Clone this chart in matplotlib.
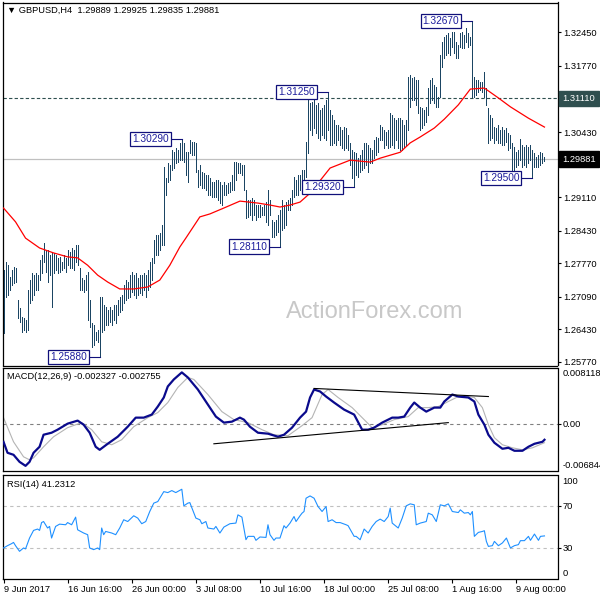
import matplotlib
matplotlib.use('Agg')
import matplotlib.pyplot as plt

plt.rcParams['font.family'] = ['Liberation Sans', 'DejaVu Sans']

# ---------------- data (H4 bars, index 0 = 9 Jun 2017 08:00) ----------------
high = [1.2763, 1.2780, 1.2774, 1.2749, 1.2763, 1.2770, 1.2768, 1.2703, 1.2687, 1.2668,
        1.2666, 1.2662, 1.2723, 1.2743, 1.2757, 1.2753, 1.2757, 1.2753, 1.2784, 1.2794,
        1.2818, 1.2804, 1.2804, 1.2794, 1.2798, 1.2798, 1.2794, 1.2788, 1.2790, 1.2780,
        1.2794, 1.2788, 1.2804, 1.2800, 1.2808, 1.2804, 1.2814, 1.2814, 1.2768, 1.2747,
        1.2743, 1.2753, 1.2759, 1.2703, 1.2656, 1.2652, 1.2638, 1.2642, 1.2709, 1.2709,
        1.2693, 1.2689, 1.2682, 1.2689, 1.2682, 1.2693, 1.2693, 1.2703, 1.2709, 1.2713,
        1.2733, 1.2743, 1.2739, 1.2753, 1.2759, 1.2753, 1.2757, 1.2747, 1.2753, 1.2753,
        1.2757, 1.2753, 1.2763, 1.2780, 1.2788, 1.2824, 1.2834, 1.2834, 1.2838, 1.2855,
        1.2972, 1.2950, 1.2980, 1.2976, 1.3007, 1.3003, 1.3011, 1.3007, 1.3021, 1.3029,
        1.3021, 1.3003, 1.3003, 1.3027, 1.3023, 1.3023, 1.3021, 1.2966, 1.2976, 1.2962,
        1.2960, 1.2956, 1.2956, 1.2950, 1.2942, 1.2942, 1.2946, 1.2946, 1.2942, 1.2936,
        1.2942, 1.2936, 1.2940, 1.2942, 1.2956, 1.2982, 1.2982, 1.2980, 1.2980, 1.2976,
        1.2976, 1.2926, 1.2905, 1.2905, 1.2909, 1.2905, 1.2895, 1.2895, 1.2895, 1.2891,
        1.2895, 1.2901, 1.2926, 1.2905, 1.2865, 1.2861, 1.2865, 1.2875, 1.2885, 1.2905,
        1.2895, 1.2901, 1.2905, 1.2909, 1.2926, 1.2952, 1.2946, 1.2956, 1.2956, 1.2966,
        1.2966, 1.3023, 1.3108, 1.3102, 1.3104, 1.3108, 1.3098, 1.3102, 1.3088, 1.3092,
        1.3098, 1.3108, 1.3125, 1.3088, 1.3078, 1.3067, 1.3057, 1.3057, 1.3053, 1.3047,
        1.3053, 1.3051, 1.3037, 1.3021, 1.3007, 1.3003, 1.3001, 1.2990, 1.2997, 1.3007,
        1.3021, 1.3021, 1.3017, 1.3011, 1.3007, 1.3027, 1.3033, 1.3031, 1.3057, 1.3053,
        1.3047, 1.3043, 1.3047, 1.3082, 1.3078, 1.3071, 1.3067, 1.3071, 1.3071, 1.3067,
        1.3057, 1.3067, 1.3154, 1.3158, 1.3152, 1.3154, 1.3148, 1.3148, 1.3094, 1.3092,
        1.3088, 1.3094, 1.3132, 1.3148, 1.3152, 1.3138, 1.3134, 1.3114, 1.3199, 1.3225,
        1.3235, 1.3240, 1.3244, 1.3233, 1.3246, 1.3246, 1.3225, 1.3219, 1.3244, 1.3246,
        1.3240, 1.3254, 1.3244, 1.3235, 1.3267, 1.3154, 1.3148, 1.3148, 1.3144, 1.3144,
        1.3165, 1.3132, 1.3092, 1.3078, 1.3071, 1.3053, 1.3051, 1.3057, 1.3047, 1.3053,
        1.3047, 1.3051, 1.3041, 1.3037, 1.3021, 1.3013, 1.3003, 1.3007, 1.3029, 1.3017,
        1.3013, 1.3017, 1.3013, 1.3017, 1.3007, 1.3001, 1.2993, 1.2997, 1.3003, 1.3001,
        1.29925]

low = [1.2636, 1.2709, 1.2713, 1.2723, 1.2733, 1.2737, 1.2739, 1.2666, 1.2658, 1.2638,
       1.2642, 1.2638, 1.2642, 1.2697, 1.2703, 1.2713, 1.2723, 1.2723, 1.2743, 1.2757,
       1.2780, 1.2759, 1.2739, 1.2753, 1.2689, 1.2757, 1.2763, 1.2757, 1.2759, 1.2763,
       1.2768, 1.2759, 1.2774, 1.2768, 1.2768, 1.2763, 1.2780, 1.2774, 1.2723, 1.2723,
       1.2719, 1.2723, 1.2662, 1.2648, 1.2607, 1.2611, 1.2622, 1.2618, 1.2588, 1.2638,
       1.2642, 1.2652, 1.2652, 1.2658, 1.2652, 1.2662, 1.2656, 1.2672, 1.2678, 1.2682,
       1.2697, 1.2703, 1.2707, 1.2709, 1.2719, 1.2713, 1.2707, 1.2713, 1.2717, 1.2713,
       1.2723, 1.2709, 1.2723, 1.2729, 1.2743, 1.2778, 1.2794, 1.2794, 1.2804, 1.2814,
       1.2814, 1.2916, 1.2942, 1.2946, 1.2966, 1.2970, 1.2980, 1.2982, 1.2986, 1.2986,
       1.2982, 1.2956, 1.2942, 1.3001, 1.2997, 1.2997, 1.2962, 1.2932, 1.2936, 1.2930,
       1.2930, 1.2926, 1.2916, 1.2916, 1.2912, 1.2912, 1.2912, 1.2905, 1.2899, 1.2895,
       1.2916, 1.2916, 1.2920, 1.2922, 1.2926, 1.2926, 1.2946, 1.2960, 1.2960, 1.2956,
       1.2926, 1.2869, 1.2871, 1.2875, 1.2865, 1.2875, 1.2865, 1.2871, 1.2871, 1.2875,
       1.2875, 1.2861, 1.2855, 1.2875, 1.2830, 1.2830, 1.2834, 1.2840, 1.2811, 1.2844,
       1.2848, 1.2855, 1.2885, 1.2885, 1.2895, 1.2911, 1.2916, 1.2916, 1.2926, 1.2942,
       1.2942, 1.2952, 1.3001, 1.3047, 1.3037, 1.3051, 1.3041, 1.3031, 1.3027, 1.3037,
       1.3031, 1.3027, 1.3047, 1.3017, 1.3017, 1.3021, 1.3017, 1.3027, 1.3017, 1.3011,
       1.3007, 1.3011, 1.3007, 1.2976, 1.2950, 1.2932, 1.2956, 1.2952, 1.2962, 1.2966,
       1.2970, 1.2976, 1.2962, 1.2980, 1.2980, 1.2990, 1.2997, 1.3003, 1.3027, 1.3027,
       1.3011, 1.3017, 1.3011, 1.3013, 1.3017, 1.3011, 1.3027, 1.3011, 1.3007, 1.3007,
       1.3013, 1.3017, 1.3047, 1.3094, 1.3108, 1.3108, 1.3098, 1.3082, 1.3047, 1.3051,
       1.3057, 1.3063, 1.3078, 1.3102, 1.3108, 1.3102, 1.3094, 1.3094, 1.3114, 1.3175,
       1.3193, 1.3199, 1.3203, 1.3199, 1.3215, 1.3203, 1.3193, 1.3193, 1.3215, 1.3213,
       1.3213, 1.3225, 1.3215, 1.3219, 1.3114, 1.3114, 1.3118, 1.3124, 1.3128, 1.3124,
       1.3114, 1.3098, 1.3021, 1.3027, 1.3031, 1.3021, 1.3027, 1.3021, 1.3021, 1.3017,
       1.3017, 1.3023, 1.3007, 1.3011, 1.2966, 1.2962, 1.2972, 1.2976, 1.2986, 1.2972,
       1.2976, 1.2972, 1.2980, 1.2986, 1.2950, 1.2972, 1.2972, 1.2972, 1.2976, 1.2980,
       1.29835]

ma_idx = [0, 6, 11, 18, 25, 32, 37, 42, 47, 52, 58, 65, 72, 78, 83, 88, 91, 98, 103, 110,
          118, 127, 133, 138, 143, 148, 153, 163, 173, 183, 188, 198, 203, 208, 215, 220,
          227, 233, 240, 247, 253, 262, 270]
ma_val = [1.2889, 1.2861, 1.2828, 1.2808, 1.2798, 1.2790, 1.2788, 1.2773, 1.2753, 1.2739,
          1.2725, 1.2725, 1.2729, 1.2743, 1.2773, 1.2810, 1.2828, 1.2871, 1.2877, 1.2889,
          1.2903, 1.2899, 1.2895, 1.2891, 1.2895, 1.2901, 1.2919, 1.2970, 1.2986, 1.2982,
          1.2990, 1.3002, 1.3021, 1.3033, 1.3051, 1.3069, 1.3098, 1.3130, 1.3132, 1.3112,
          1.3094, 1.3071, 1.3053]

macd_idx = [0, 2, 5, 8, 11, 13, 15, 18, 20, 24, 27, 32, 37, 40, 43, 46, 48, 52, 57, 62,
            66, 70, 74, 77, 80, 82, 85, 89, 92, 97, 102, 106, 110, 114, 118, 120, 123, 127,
            132, 137, 140, 144, 148, 151, 153, 155, 158, 161, 165, 170, 175, 179, 182, 185,
            189, 194, 197, 200, 203, 205, 208, 211, 215, 218, 220, 224, 227, 232, 235, 237,
            240, 242, 245, 249, 252, 255, 259, 262, 265, 269, 270]
macd_val = [-0.00262, -0.00421, -0.00450, -0.00552, -0.00610, -0.00552, -0.00421, -0.00334,
            -0.00160, -0.00131, -0.00087, 0.0, 0.00044, -0.00015, -0.00131, -0.00334,
            -0.00378, -0.00291, -0.00189, -0.00044, 0.00087, 0.00087, 0.00131, 0.00247,
            0.00378, 0.00538, 0.00639, 0.00741, 0.00668, 0.00494, 0.00276, 0.00102, 0.00015,
            0.00029, 0.00087, 0.00058, -0.00044, -0.00131, -0.00145, -0.00189, -0.00160,
            -0.00058, 0.00087, 0.00174, 0.00378, 0.00494, 0.00465, 0.00392, 0.00305, 0.00203,
            0.00131, -0.00087, -0.00087, -0.00058, 0.00015, 0.00087, 0.00087, 0.00102,
            0.00232, 0.00305, 0.00232, 0.00174, 0.00232, 0.00232, 0.00320, 0.00421, 0.00392,
            0.00378, 0.00320, 0.00131, -0.00015, -0.00160, -0.00276, -0.00363, -0.00349,
            -0.00392, -0.00392, -0.00334, -0.00291, -0.00262, -0.002327]

sig_idx = [0, 5, 10, 13, 15, 20, 25, 32, 39, 44, 49, 54, 59, 65, 72, 77, 82, 87, 92, 95,
           102, 109, 115, 122, 129, 135, 142, 149, 154, 159, 162, 167, 174, 180, 184, 189,
           195, 202, 207, 212, 217, 222, 227, 232, 235, 239, 242, 245, 249, 254, 259, 264, 270]
sig_val = [0.00087, -0.00262, -0.00479, -0.00523, -0.00494, -0.00334, -0.00189, -0.00058,
           0.00015, -0.00087, -0.00262, -0.00305, -0.00232, -0.00044, 0.00087, 0.00160,
           0.00305, 0.00523, 0.00668, 0.00639, 0.00421, 0.00174, 0.00058, 0.00015, -0.00087,
           -0.00160, -0.00174, -0.00029, 0.00087, 0.00421, 0.00494, 0.00378, 0.00232,
           0.00058, -0.00058, -0.00015, 0.00058, 0.00102, 0.00232, 0.00232, 0.00247, 0.00320,
           0.00392, 0.00392, 0.00378, 0.00232, -0.00015, -0.00203, -0.00305, -0.00349,
           -0.00378, -0.00349, -0.002755]

trend_upper_idx = [155, 242]
trend_upper_val = [0.00509, 0.00392]
trend_lower_idx = [105, 222]
trend_lower_val = [-0.00291, 0.00015]

rsi_idx = [0, 2, 4, 5, 6, 8, 10, 11, 13, 15, 17, 18, 19, 20, 22, 23, 24, 26, 28, 31,
           32, 34, 36, 37, 40, 42, 43, 45, 47, 48, 49, 50, 51, 54, 56, 58, 60, 62, 65, 67,
           69, 71, 73, 75, 77, 80, 82, 84, 86, 89, 90, 92, 93, 96, 98, 99, 101, 102, 105, 106,
           108, 110, 113, 116, 117, 119, 121, 122, 125, 126, 128, 131, 132, 133, 135, 136, 138,
           140, 141, 143, 145, 146, 148, 149, 150, 151, 153, 155, 157, 159, 161, 162, 164, 166,
           168, 171, 172, 175, 176, 178, 180, 182, 184, 186, 188, 190, 192, 193, 194, 196,
           197, 199, 201, 203, 205, 206, 208, 211, 212, 214, 216, 218, 220, 222, 224, 227,
           228, 230, 232, 233, 234, 235, 237, 239, 240, 241, 242, 244, 245, 247, 249, 251,
           253, 255, 257, 258, 260, 262, 263, 265, 267, 268, 270]
rsi_val = [29.7, 31.9, 33.8, 35.0, 31.9, 26.5, 29.7, 28.8, 39.2, 46.5,
           47.8, 46.5, 54.0, 55.0, 48.8, 50.3, 39.2, 50.3, 52.5, 51.9,
           54.0, 51.9, 59.2, 47.1, 44.0, 42.4, 29.7, 28.1, 29.7, 28.1,
           48.8, 42.4, 45.5, 44.0, 42.4, 48.8, 56.7, 55.0, 60.5, 58.3,
           52.9, 55.0, 64.6, 72.6, 74.1, 83.6, 82.7, 84.6, 82.7, 85.9,
           70.0, 72.6, 73.1, 58.3, 56.7, 52.9, 55.0, 48.8, 47.8, 50.3,
           44.0, 49.7, 52.9, 53.5, 61.4, 59.2, 37.6, 40.8, 40.8, 37.0,
           40.2, 39.8, 51.9, 42.4, 37.0, 39.2, 39.2, 51.0, 48.8, 53.5,
           59.8, 55.0, 60.5, 63.0, 64.6, 77.3, 79.5, 77.3, 69.3, 64.6,
           69.3, 55.0, 56.7, 54.0, 54.0, 51.9, 51.0, 40.8, 40.8, 37.6,
           47.8, 44.0, 50.3, 55.0, 57.3, 55.0, 59.8, 67.8, 53.5, 50.3,
           48.8, 58.3, 70.0, 71.9, 71.0, 51.9, 53.5, 55.0, 63.0, 61.4,
           55.0, 71.0, 70.0, 71.9, 64.6, 63.6, 66.2, 63.0, 63.6, 61.4,
           64.6, 40.8, 44.6, 45.5, 46.2, 36.0, 31.2, 31.9, 36.0, 31.9,
           34.5, 39.2, 29.7, 31.9, 32.9, 36.7, 36.7, 40.8, 37.0, 43.0,
           37.0, 40.8, 41.2312]

pivot_idx = [48, 89, 138, 162, 175, 234, 264]
pivot_val = [1.25880, 1.30290, 1.28110, 1.31250, 1.29320, 1.32670, 1.29500]

hline_level = 1.31110
last_price = 1.29881
price_ticks = [1.32450, 1.31770, 1.31110, 1.30430, 1.29770, 1.29110, 1.28430,
               1.27770, 1.27090, 1.26430, 1.25770]
date_idx = [0, 32, 64, 96, 128, 160, 192, 224, 256]
date_labels = ['9 Jun 2017', '16 Jun 16:00', '26 Jun 00:00', '3 Jul 08:00',
               '10 Jul 16:00', '18 Jul 00:00', '25 Jul 08:00', '1 Aug 16:00', '9 Aug 00:00']

header_main = '\u25bc GBPUSD,H4  1.29889 1.29925 1.29835 1.29881'
header_macd = 'MACD(12,26,9) -0.002327 -0.002755'
header_rsi = 'RSI(14) 41.2312'

# ---------------- layout ----------------
W = H = 600.0
def rect(l, t, r, b):
    return [l / W, 1 - b / H, (r - l) / W, (b - t) / H]

FS = 6.7
BAR_C = '#1b4563'
XLIM = (-0.25, 276.5)

fig = plt.figure(figsize=(6, 6), dpi=100)
fig.patch.set_facecolor('white')

def style(ax):
    for s in ax.spines.values():
        s.set_color('black')
        s.set_linewidth(0.9)
    ax.set_xlim(*XLIM)
    ax.yaxis.tick_right()
    ax.tick_params(axis='y', direction='out', length=2.3, width=0.8, pad=1.6,
                   labelsize=FS, colors='black')
    ax.tick_params(axis='x', bottom=False, labelbottom=False)

# ---- main price panel ----
ax1 = fig.add_axes(rect(3, 2.5, 557.5, 365.5))
style(ax1)
ax1.set_ylim(1.25699, 1.33054)
ax1.set_yticks(price_ticks)
ax1.set_yticklabels([f'{t:.5f}' for t in price_ticks])

ax1.axhline(last_price, color='#c0c0c0', lw=0.9, zorder=1)
ax1.axhline(hline_level, color='#2f4f4f', lw=0.8, ls=(0, (3, 2)), zorder=1)

ax1.vlines(range(len(high)), low, high, colors=BAR_C, lw=0.45, antialiased=False, zorder=3)
ax1.plot(ma_idx, ma_val, color='#ff0000', lw=0.9, zorder=4)

ax1.text(0.671, 0.147, 'ActionForex.com', transform=ax1.transAxes, fontsize=17,
         color='#c8c8c8', ha='center', va='center', zorder=0)

ax1.annotate(header_main, xy=(0, 1), xycoords='axes fraction', xytext=(4, -8),
             textcoords='offset pixels', fontsize=FS, va='center', ha='left')

for i, v in zip(pivot_idx, pivot_val):
    ax1.plot([i - 5, i], [v, v], color='#10107a', lw=0.8, zorder=5)
    ax1.annotate(f'{v:.5f}', xy=(i, v), xytext=(-13, 0), textcoords='offset pixels',
                 ha='right', va='center', fontsize=7.3, color='#1c1c9c', zorder=6,
                 bbox=dict(boxstyle='square,pad=0.2', fc='white', ec='#10107a', lw=0.9))

ax1.annotate(f'{hline_level:.5f}', xy=(1, hline_level), xycoords=('axes fraction', 'data'),
             xytext=(5, 0), textcoords='offset pixels', ha='left', va='center',
             fontsize=FS, color='white', zorder=10, annotation_clip=False,
             bbox=dict(boxstyle='square,pad=0.35', fc='#2f4f4f', ec='#2f4f4f'))
ax1.annotate(f'{last_price:.5f}', xy=(1, last_price), xycoords=('axes fraction', 'data'),
             xytext=(5, 0), textcoords='offset pixels', ha='left', va='center',
             fontsize=FS, color='white', zorder=10, annotation_clip=False,
             bbox=dict(boxstyle='square,pad=0.35', fc='black', ec='black'))

# ---- MACD panel ----
ax2 = fig.add_axes(rect(3, 367.5, 557.5, 471))
style(ax2)
ax2.set_ylim(-0.006844, 0.008118)
ax2.set_yticks([0])
ax2.set_yticklabels(['0.00'])
ax2.axhline(0, color='#808080', lw=0.8, ls=(0, (3, 3)), zorder=1)
ax2.plot(sig_idx, sig_val, color='#b4b4b4', lw=0.8, zorder=2)
ax2.plot(macd_idx, macd_val, color='#0a0a8c', lw=1.6, zorder=3)
ax2.plot(trend_upper_idx, trend_upper_val, color='black', lw=0.8, zorder=4)
ax2.plot(trend_lower_idx, trend_lower_val, color='black', lw=0.8, zorder=4)
ax2.annotate(header_macd, xy=(0, 1), xycoords='axes fraction', xytext=(4, -9),
             textcoords='offset pixels', fontsize=FS, va='center', ha='left')
ax2.annotate('0.008118', xy=(1, 1), xycoords='axes fraction', xytext=(5, -6.5),
             textcoords='offset pixels', fontsize=FS, va='center', ha='left',
             annotation_clip=False)
ax2.annotate('-0.006844', xy=(1, 0), xycoords='axes fraction', xytext=(5, 6),
             textcoords='offset pixels', fontsize=FS, va='center', ha='left',
             annotation_clip=False)

# ---- RSI panel ----
ax3 = fig.add_axes(rect(3, 474.5, 557.5, 579))
style(ax3)
ax3.set_ylim(0, 100)
ax3.set_yticks([70, 30])
ax3.set_yticklabels(['70', '30'])
ax3.axhline(70, color='#c0c0c0', lw=0.8, ls=(0, (3, 3)), zorder=1)
ax3.axhline(30, color='#c0c0c0', lw=0.8, ls=(0, (3, 3)), zorder=1)
ax3.plot(rsi_idx, rsi_val, color='#1e90ff', lw=0.8, zorder=3)
ax3.annotate(header_rsi, xy=(0, 1), xycoords='axes fraction', xytext=(4, -10),
             textcoords='offset pixels', fontsize=FS, va='center', ha='left')
ax3.annotate('100', xy=(1, 1), xycoords='axes fraction', xytext=(5, -7.5),
             textcoords='offset pixels', fontsize=FS, va='center', ha='left',
             annotation_clip=False)
ax3.annotate('0', xy=(1, 0), xycoords='axes fraction', xytext=(5, 6),
             textcoords='offset pixels', fontsize=FS, va='center', ha='left',
             annotation_clip=False)
ax3.set_xticks(date_idx)
ax3.set_xticklabels(date_labels)
ax3.tick_params(axis='x', bottom=True, labelbottom=True, direction='out', length=3,
                width=0.8, pad=1.5, labelsize=FS)
for lbl in ax3.get_xticklabels():
    lbl.set_horizontalalignment('left')

fig.savefig('out.png', dpi=100, facecolor='white')
